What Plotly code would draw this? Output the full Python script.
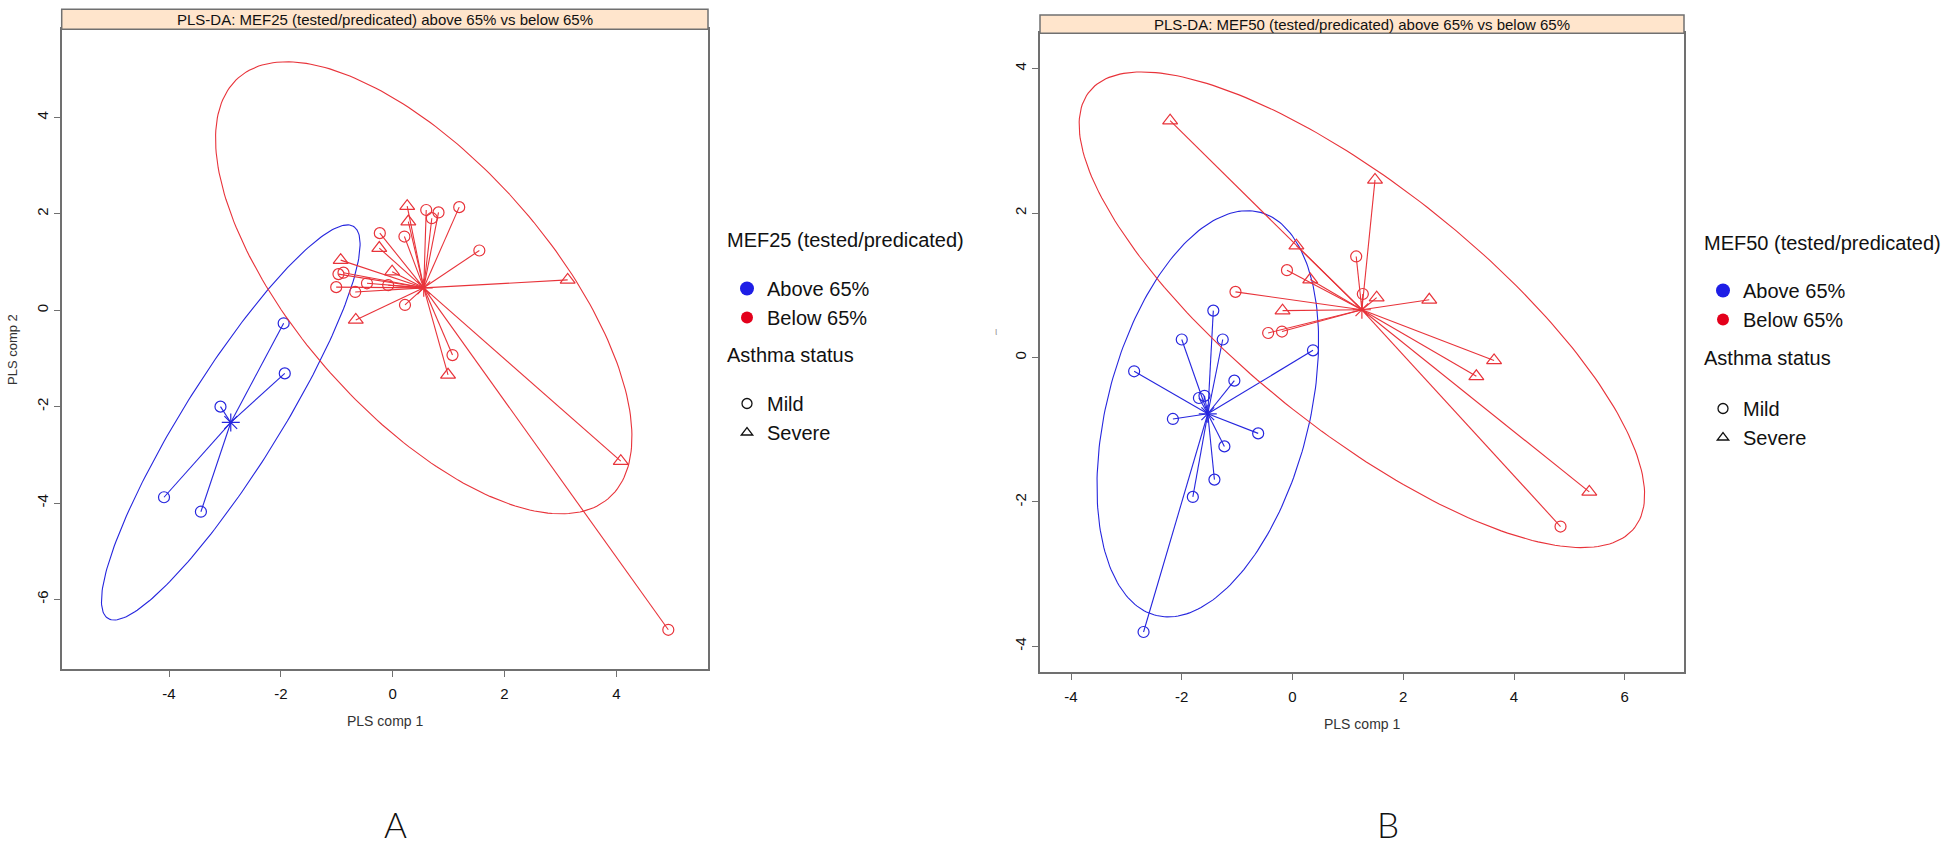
import numpy as np
import plotly.graph_objects as go

# ---------------- Panel A: MEF25 ----------------
a_above_mild_x = [-1.95, -1.93, -3.08, -4.09, -3.43]
a_above_mild_y = [-0.27, -1.31, -2.00, -3.88, -4.18]

a_below_mild_x = [0.60, 0.82, 0.70, 1.19, -0.23, 0.21, 1.55, -0.97, -0.88, -1.01,
                  -0.67, -0.46, -0.08, 0.22, 1.07, 4.93]
a_below_mild_y = [2.08, 2.03, 1.91, 2.14, 1.60, 1.53, 1.24, 0.75, 0.78, 0.48,
                  0.38, 0.56, 0.52, 0.11, -0.93, -6.63]
a_below_severe_x = [0.26, 0.28, -0.24, -0.93, -0.01, 3.13, -0.66, 0.99, 4.08]
a_below_severe_y = [2.16, 1.84, 1.29, 1.04, 0.80, 0.63, -0.20, -1.34, -3.13]

# ---------------- Panel B: MEF50 ----------------
b_above_mild_x = [-1.43, -2.00, -1.26, 0.37, -2.86, -1.05, -1.59, -1.69, -2.16,
                  -0.62, -1.23, -1.41, -1.80, -2.69]
b_above_mild_y = [0.65, 0.25, 0.25, 0.10, -0.19, -0.32, -0.53, -0.56, -0.85,
                  -1.05, -1.23, -1.69, -1.93, -3.80]

b_below_mild_x = [1.15, -0.10, -1.03, 1.27, -0.44, -0.19, 4.84]
b_below_mild_y = [1.40, 1.21, 0.91, 0.88, 0.34, 0.36, -2.34]
b_below_severe_x = [-2.21, 1.49, 0.07, 0.32, 1.52, 2.47, -0.18, 3.64, 3.32, 5.36]
b_below_severe_y = [3.28, 2.46, 1.55, 1.08, 0.83, 0.80, 0.65, -0.04, -0.26, -1.86]

titles = ["PLS-DA: MEF25 (tested/predicated) above 65% vs below 65%",
          "PLS-DA: MEF50 (tested/predicated) above 65% vs below 65%"]
legend_titles = ["MEF25 (tested/predicated)", "MEF50 (tested/predicated)"]
status_title = "Asthma status"
group_names = ["Above 65%", "Below 65%"]
status_names = ["Mild", "Severe"]
axis_x_title = "PLS comp 1"
axis_y_title = "PLS comp 2"
panel_letters = ["A", "B"]

a_xticks = [-4, -2, 0, 2, 4]
a_yticks = [-6, -4, -2, 0, 2, 4]
b_xticks = [-4, -2, 0, 2, 4, 6]
b_yticks = [-4, -2, 0, 2, 4]

BLUE = "#2626DE"
RED = "#E8333A"
BORDER = "#707070"
FONT = "Liberation Sans, Arial, sans-serif"
W, H = 1944, 844


def ellipse_95(x, y, n=240):
    """95% confidence ellipse (as in mixOmics / ellipse package)."""
    x = np.asarray(x, float)
    y = np.asarray(y, float)
    cx, cy = x.mean(), y.mean()
    cov = np.cov(x, y)
    sx, sy = np.sqrt(cov[0, 0]), np.sqrt(cov[1, 1])
    r = cov[0, 1] / (sx * sy)
    d = np.arccos(r)
    t = np.sqrt(-2 * np.log(0.05))
    a = np.linspace(0, 2 * np.pi, n)
    return cx + t * sx * np.cos(a + d / 2), cy + t * sy * np.cos(a - d / 2)


def star_lines(xs, ys):
    cx, cy = float(np.mean(xs)), float(np.mean(ys))
    lx, ly = [], []
    for px, py in zip(xs, ys):
        lx += [cx, px, None]
        ly += [cy, py, None]
    return lx, ly, cx, cy


fig = go.Figure()


def add_group(xs_list, ys_list, symbols, color, xa, ya):
    allx = [v for xs in xs_list for v in xs]
    ally = [v for ys in ys_list for v in ys]
    ex, ey = ellipse_95(allx, ally)
    fig.add_trace(go.Scatter(x=ex, y=ey, mode="lines", line=dict(color=color, width=1.1),
                             showlegend=False, hoverinfo="skip", xaxis=xa, yaxis=ya))
    lx, ly, cx, cy = star_lines(allx, ally)
    fig.add_trace(go.Scatter(x=lx, y=ly, mode="lines", line=dict(color=color, width=1.1),
                             showlegend=False, hoverinfo="skip", xaxis=xa, yaxis=ya))
    for xs, ys, sym in zip(xs_list, ys_list, symbols):
        fig.add_trace(go.Scatter(x=xs, y=ys, mode="markers",
                                 marker=dict(symbol=sym, size=13 if "triangle" in sym else 11,
                                             color=color, line=dict(color=color, width=1.2)),
                                 showlegend=False, xaxis=xa, yaxis=ya))
    fig.add_trace(go.Scatter(x=[cx], y=[cy], mode="markers",
                             marker=dict(symbol="asterisk-open", size=15, color=color,
                                         line=dict(color=color, width=1.2)),
                             showlegend=False, hoverinfo="skip", xaxis=xa, yaxis=ya))


# Panel A
add_group([a_above_mild_x], [a_above_mild_y], ["circle-open"], BLUE, "x", "y")
add_group([a_below_mild_x, a_below_severe_x], [a_below_mild_y, a_below_severe_y],
          ["circle-open", "triangle-up-open"], RED, "x", "y")
# Panel B
add_group([b_above_mild_x], [b_above_mild_y], ["circle-open"], BLUE, "x2", "y2")
add_group([b_below_mild_x, b_below_severe_x], [b_below_mild_y, b_below_severe_y],
          ["circle-open", "triangle-up-open"], RED, "x2", "y2")

# Legend entries (colour legend and symbol legend for each panel)
legend_sets = [("legend", "legend2", "x", "y"), ("legend3", "legend4", "x2", "y2")]
for lg_col, lg_pch, xa, ya in legend_sets:
    fig.add_trace(go.Scatter(x=[None], y=[None], mode="markers", name=group_names[0],
                             marker=dict(symbol="circle", size=14, color="#1E1EE6"),
                             legend=lg_col, xaxis=xa, yaxis=ya))
    fig.add_trace(go.Scatter(x=[None], y=[None], mode="markers", name=group_names[1],
                             marker=dict(symbol="circle", size=12, color="#E3001B"),
                             legend=lg_col, xaxis=xa, yaxis=ya))
    fig.add_trace(go.Scatter(x=[None], y=[None], mode="markers", name=status_names[0],
                             marker=dict(symbol="circle-open", size=10, color="#111",
                                         line=dict(width=1.3, color="#111")),
                             legend=lg_pch, xaxis=xa, yaxis=ya))
    fig.add_trace(go.Scatter(x=[None], y=[None], mode="markers", name=status_names[1],
                             marker=dict(symbol="triangle-up-open", size=10, color="#111",
                                         line=dict(width=1.3, color="#111")),
                             legend=lg_pch, xaxis=xa, yaxis=ya))

# Geometry (pixels)
A_L, A_R, A_T, A_B = 61.7, 708, 29.3, 669.3
B_L, B_R, B_T, B_B = 1040, 1684, 33.3, 671.7
A_STRIP, B_STRIP = 20.0, 18.3


def axis_common(ticks, **kw):
    d = dict(showgrid=False, zeroline=False, showline=True, mirror=True, linecolor=BORDER,
             linewidth=2, ticks="outside", ticklen=6, tickwidth=1, tickcolor=BORDER,
             tickvals=ticks, ticktext=[str(v) for v in ticks],
             tickfont=dict(family=FONT, size=15, color="#111"))
    d.update(kw)
    return d


def legend_box(xpx, ytop_px):
    return dict(x=xpx / W, y=1 - ytop_px / H, xanchor="left", yanchor="top",
                font=dict(family=FONT, size=20, color="#111"),
                bgcolor="rgba(0,0,0,0)", borderwidth=0, traceorder="normal")


fig.update_layout(
    width=W, height=H, margin=dict(l=0, r=0, t=0, b=0),
    paper_bgcolor="white", plot_bgcolor="white",
    xaxis=axis_common(a_xticks, domain=[A_L / W, A_R / W], range=[-5.92, 5.64],
                      anchor="y", ticklabelstandoff=4),
    yaxis=axis_common(a_yticks, domain=[1 - A_B / H, 1 - A_T / H], range=[-7.45, 5.83],
                      tickangle=-90, anchor="x"),
    xaxis2=axis_common(b_xticks, domain=[B_L / W, B_R / W], range=[-4.56, 7.07],
                       anchor="y2", ticklabelstandoff=4),
    yaxis2=axis_common(b_yticks, domain=[1 - B_B / H, 1 - B_T / H], range=[-4.35, 4.49],
                       tickangle=-90, anchor="x2"),
    legend=legend_box(727, 269),
    legend2=legend_box(727, 384),
    legend3=legend_box(1703, 271),
    legend4=legend_box(1703, 389),
    showlegend=True,
)

shapes = []
annotations = []
for (xa, ya, top, bot, strip, title) in [("x", "y", A_T, A_B, A_STRIP, titles[0]),
                                          ("x2", "y2", B_T, B_B, B_STRIP, titles[1])]:
    hfrac = strip / (bot - top)
    shapes.append(dict(type="rect", xref=f"{xa} domain", yref=f"{ya} domain",
                       x0=0, x1=1, y0=1, y1=1 + hfrac, fillcolor="#FFE5CC",
                       line=dict(color=BORDER, width=1.5), layer="above"))
    annotations.append(dict(text=title, xref=f"{xa} domain", yref=f"{ya} domain", x=0.5,
                            y=1 + hfrac / 2, showarrow=False, xanchor="center", yanchor="middle",
                            font=dict(family=FONT, size=15, color="#111")))
    annotations.append(dict(text=axis_x_title, xref=f"{xa} domain", yref=f"{ya} domain", x=0.5,
                            y=0, yshift=-52, showarrow=False, xanchor="center", yanchor="middle",
                            font=dict(family=FONT, size=14, color="#333")))

# legend headings
for txt, xpx, ypx in [(legend_titles[0], 725, 240), (status_title, 725, 355),
                      (legend_titles[1], 1702, 243), (status_title, 1702, 358)]:
    annotations.append(dict(text=txt, xref="paper", yref="paper", x=xpx / W, y=1 - ypx / H,
                            showarrow=False, xanchor="left", yanchor="middle",
                            font=dict(family=FONT, size=20, color="#111")))

annotations.append(dict(text=axis_y_title, xref="x domain", yref="y domain", x=0, y=0.5,
                        xshift=-49, showarrow=False, textangle=-90, xanchor="center",
                        yanchor="middle", font=dict(family=FONT, size=13, color="#333")))
# faint remnant of the y label in panel B
annotations.append(dict(text="ι", xref="paper", yref="paper", x=996 / W, y=1 - 332 / H,
                        showarrow=False, font=dict(family=FONT, size=10, color="#999")))
# panel letters
for letter, xpx in zip(panel_letters, [395, 1388]):
    annotations.append(dict(text=letter, xref="paper", yref="paper", x=xpx / W,
                            y=1 - 824 / H, showarrow=False, xanchor="center", yanchor="middle",
                            height=34,
                            font=dict(family="Lato, Noto Sans, sans-serif", size=35, color="#111",
                                      weight=300)))

fig.update_layout(shapes=shapes, annotations=annotations)

fig.write_html("out.html", config={"displayModeBar": False},
               post_script="document.body.style.margin='0';")
